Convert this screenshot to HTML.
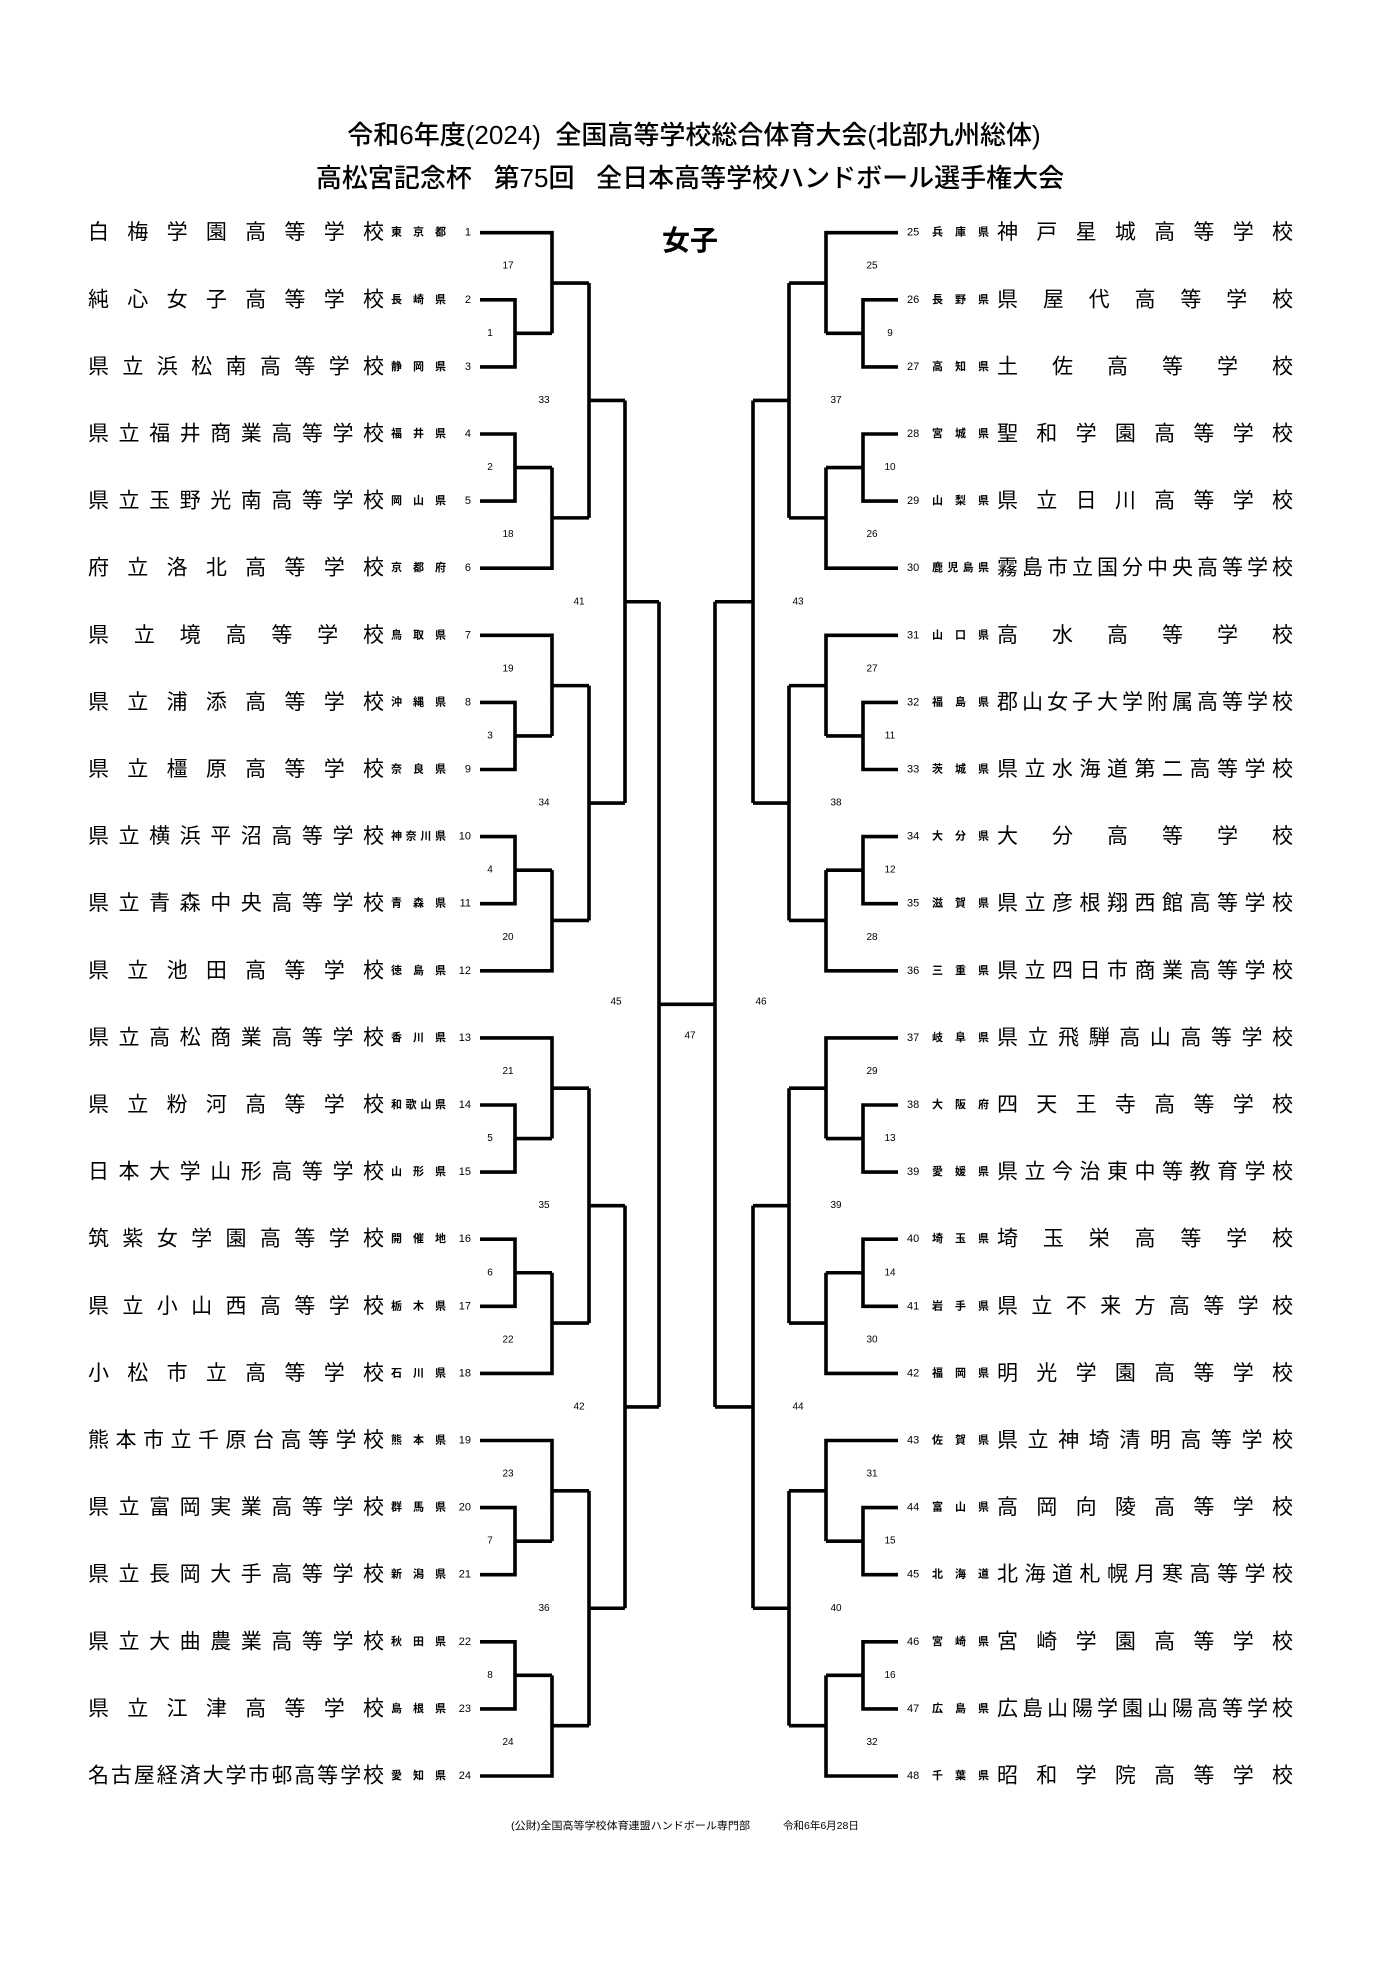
<!DOCTYPE html>
<html><head><meta charset="utf-8"><style>
html,body{margin:0;padding:0;background:#fff}
svg{display:block}
text{font-family:"Liberation Sans","Noto Sans CJK JP",sans-serif;fill:#000}
.t{font-size:26px;font-weight:500}
.n{font-size:21px}
.p{font-size:11px;font-weight:bold}
.num{font-size:11px}
.g{font-size:10px}
</style></head><body>
<svg width="1388" height="1962" viewBox="0 0 1388 1962" xmlns="http://www.w3.org/2000/svg">
<defs>
<path id="blk" d="M480 0H552V100.65 M480 67.1H515V134.2H480 M515 100.65H552 M552 50.33H589 M480 201.3H515V268.4H480 M515 234.85H552 M552 234.85V335.5H480 M552 285.18H589 M589 50.33V285.18 M589 167.75H625" fill="none" stroke="#000" stroke-width="3.6"/>
</defs>
<text class="t" x="694" y="144" text-anchor="middle">令和6年度(2024)&#160;&#160;全国高等学校総合体育大会(北部九州総体)</text>
<text class="t" x="690" y="187" text-anchor="middle">高松宮記念杯&#160;&#160;&#160;第75回&#160;&#160;&#160;全日本高等学校ハンドボール選手権大会</text>
<text x="690" y="250" text-anchor="middle" style="font-size:28px;font-weight:bold">女子</text>

<use href="#blk" transform="translate(0,232.7)"/>
<use href="#blk" transform="translate(0,635.3)"/>
<use href="#blk" transform="translate(0,1037.9)"/>
<use href="#blk" transform="translate(0,1440.5)"/>
<use href="#blk" transform="translate(1378,232.7) scale(-1,1)"/>
<use href="#blk" transform="translate(1378,635.3) scale(-1,1)"/>
<use href="#blk" transform="translate(1378,1037.9) scale(-1,1)"/>
<use href="#blk" transform="translate(1378,1440.5) scale(-1,1)"/>
<path d="M625 400.45V803.05 M625 601.75H659 M625 1205.65V1608.25 M625 1406.95H659 M659 601.75V1406.95 M659 1004.35H715 M753 400.45V803.05 M753 601.75H715 M753 1205.65V1608.25 M753 1406.95H715 M715 601.75V1406.95" fill="none" stroke="#000" stroke-width="3.6"/>

<g class="g" text-anchor="middle" dominant-baseline="central">
<text x="490" y="333.35">1</text><text x="490" y="467.55">2</text><text x="508" y="266.2">17</text><text x="508" y="534.7">18</text><text x="544" y="400.45">33</text>
<text x="490" y="735.95">3</text><text x="490" y="870.15">4</text><text x="508" y="668.8">19</text><text x="508" y="937.3">20</text><text x="544" y="803.05">34</text>
<text x="490" y="1138.55">5</text><text x="490" y="1272.75">6</text><text x="508" y="1071.4">21</text><text x="508" y="1339.9">22</text><text x="544" y="1205.65">35</text>
<text x="490" y="1541.15">7</text><text x="490" y="1675.35">8</text><text x="508" y="1474">23</text><text x="508" y="1742.5">24</text><text x="544" y="1608.25">36</text>
<text x="890" y="333.35">9</text><text x="890" y="467.55">10</text><text x="872" y="266.2">25</text><text x="872" y="534.7">26</text><text x="836" y="400.45">37</text>
<text x="890" y="735.95">11</text><text x="890" y="870.15">12</text><text x="872" y="668.8">27</text><text x="872" y="937.3">28</text><text x="836" y="803.05">38</text>
<text x="890" y="1138.55">13</text><text x="890" y="1272.75">14</text><text x="872" y="1071.4">29</text><text x="872" y="1339.9">30</text><text x="836" y="1205.65">39</text>
<text x="890" y="1541.15">15</text><text x="890" y="1675.35">16</text><text x="872" y="1474">31</text><text x="872" y="1742.5">32</text><text x="836" y="1608.25">40</text>
<text x="579" y="601.75">41</text><text x="579" y="1406.95">42</text><text x="798" y="601.75">43</text><text x="798" y="1406.95">44</text>
<text x="616" y="1002">45</text><text x="761" y="1002">46</text><text x="690" y="1036">47</text>
</g>

<g dominant-baseline="central">
<text class="n" x="88" y="232.7" textLength="296" lengthAdjust="spacing">白梅学園高等学校</text><text class="p" x="391" y="232.7" textLength="55" lengthAdjust="spacing">東京都</text><text class="num" x="471" y="232.7" text-anchor="end">1</text>
<text class="n" x="88" y="299.8" textLength="296" lengthAdjust="spacing">純心女子高等学校</text><text class="p" x="391" y="299.8" textLength="55" lengthAdjust="spacing">長崎県</text><text class="num" x="471" y="299.8" text-anchor="end">2</text>
<text class="n" x="88" y="366.9" textLength="296" lengthAdjust="spacing">県立浜松南高等学校</text><text class="p" x="391" y="366.9" textLength="55" lengthAdjust="spacing">静岡県</text><text class="num" x="471" y="366.9" text-anchor="end">3</text>
<text class="n" x="88" y="434.0" textLength="296" lengthAdjust="spacing">県立福井商業高等学校</text><text class="p" x="391" y="434.0" textLength="55" lengthAdjust="spacing">福井県</text><text class="num" x="471" y="434.0" text-anchor="end">4</text>
<text class="n" x="88" y="501.1" textLength="296" lengthAdjust="spacing">県立玉野光南高等学校</text><text class="p" x="391" y="501.1" textLength="55" lengthAdjust="spacing">岡山県</text><text class="num" x="471" y="501.1" text-anchor="end">5</text>
<text class="n" x="88" y="568.2" textLength="296" lengthAdjust="spacing">府立洛北高等学校</text><text class="p" x="391" y="568.2" textLength="55" lengthAdjust="spacing">京都府</text><text class="num" x="471" y="568.2" text-anchor="end">6</text>
<text class="n" x="88" y="635.3" textLength="296" lengthAdjust="spacing">県立境高等学校</text><text class="p" x="391" y="635.3" textLength="55" lengthAdjust="spacing">鳥取県</text><text class="num" x="471" y="635.3" text-anchor="end">7</text>
<text class="n" x="88" y="702.4" textLength="296" lengthAdjust="spacing">県立浦添高等学校</text><text class="p" x="391" y="702.4" textLength="55" lengthAdjust="spacing">沖縄県</text><text class="num" x="471" y="702.4" text-anchor="end">8</text>
<text class="n" x="88" y="769.5" textLength="296" lengthAdjust="spacing">県立橿原高等学校</text><text class="p" x="391" y="769.5" textLength="55" lengthAdjust="spacing">奈良県</text><text class="num" x="471" y="769.5" text-anchor="end">9</text>
<text class="n" x="88" y="836.6" textLength="296" lengthAdjust="spacing">県立横浜平沼高等学校</text><text class="p" x="391" y="836.6" textLength="55" lengthAdjust="spacing">神奈川県</text><text class="num" x="471" y="836.6" text-anchor="end">10</text>
<text class="n" x="88" y="903.7" textLength="296" lengthAdjust="spacing">県立青森中央高等学校</text><text class="p" x="391" y="903.7" textLength="55" lengthAdjust="spacing">青森県</text><text class="num" x="471" y="903.7" text-anchor="end">11</text>
<text class="n" x="88" y="970.8" textLength="296" lengthAdjust="spacing">県立池田高等学校</text><text class="p" x="391" y="970.8" textLength="55" lengthAdjust="spacing">徳島県</text><text class="num" x="471" y="970.8" text-anchor="end">12</text>
<text class="n" x="88" y="1037.9" textLength="296" lengthAdjust="spacing">県立高松商業高等学校</text><text class="p" x="391" y="1037.9" textLength="55" lengthAdjust="spacing">香川県</text><text class="num" x="471" y="1037.9" text-anchor="end">13</text>
<text class="n" x="88" y="1105.0" textLength="296" lengthAdjust="spacing">県立粉河高等学校</text><text class="p" x="391" y="1105.0" textLength="55" lengthAdjust="spacing">和歌山県</text><text class="num" x="471" y="1105.0" text-anchor="end">14</text>
<text class="n" x="88" y="1172.1" textLength="296" lengthAdjust="spacing">日本大学山形高等学校</text><text class="p" x="391" y="1172.1" textLength="55" lengthAdjust="spacing">山形県</text><text class="num" x="471" y="1172.1" text-anchor="end">15</text>
<text class="n" x="88" y="1239.2" textLength="296" lengthAdjust="spacing">筑紫女学園高等学校</text><text class="p" x="391" y="1239.2" textLength="55" lengthAdjust="spacing">開催地</text><text class="num" x="471" y="1239.2" text-anchor="end">16</text>
<text class="n" x="88" y="1306.3" textLength="296" lengthAdjust="spacing">県立小山西高等学校</text><text class="p" x="391" y="1306.3" textLength="55" lengthAdjust="spacing">栃木県</text><text class="num" x="471" y="1306.3" text-anchor="end">17</text>
<text class="n" x="88" y="1373.4" textLength="296" lengthAdjust="spacing">小松市立高等学校</text><text class="p" x="391" y="1373.4" textLength="55" lengthAdjust="spacing">石川県</text><text class="num" x="471" y="1373.4" text-anchor="end">18</text>
<text class="n" x="88" y="1440.5" textLength="296" lengthAdjust="spacing">熊本市立千原台高等学校</text><text class="p" x="391" y="1440.5" textLength="55" lengthAdjust="spacing">熊本県</text><text class="num" x="471" y="1440.5" text-anchor="end">19</text>
<text class="n" x="88" y="1507.6" textLength="296" lengthAdjust="spacing">県立富岡実業高等学校</text><text class="p" x="391" y="1507.6" textLength="55" lengthAdjust="spacing">群馬県</text><text class="num" x="471" y="1507.6" text-anchor="end">20</text>
<text class="n" x="88" y="1574.7" textLength="296" lengthAdjust="spacing">県立長岡大手高等学校</text><text class="p" x="391" y="1574.7" textLength="55" lengthAdjust="spacing">新潟県</text><text class="num" x="471" y="1574.7" text-anchor="end">21</text>
<text class="n" x="88" y="1641.8" textLength="296" lengthAdjust="spacing">県立大曲農業高等学校</text><text class="p" x="391" y="1641.8" textLength="55" lengthAdjust="spacing">秋田県</text><text class="num" x="471" y="1641.8" text-anchor="end">22</text>
<text class="n" x="88" y="1708.9" textLength="296" lengthAdjust="spacing">県立江津高等学校</text><text class="p" x="391" y="1708.9" textLength="55" lengthAdjust="spacing">島根県</text><text class="num" x="471" y="1708.9" text-anchor="end">23</text>
<text class="n" x="88" y="1776.0" textLength="296" lengthAdjust="spacing">名古屋経済大学市邨高等学校</text><text class="p" x="391" y="1776.0" textLength="55" lengthAdjust="spacing">愛知県</text><text class="num" x="471" y="1776.0" text-anchor="end">24</text>

<text class="num" x="907" y="232.7">25</text><text class="p" x="932" y="232.7" textLength="57" lengthAdjust="spacing">兵庫県</text><text class="n" x="997" y="232.7" textLength="296" lengthAdjust="spacing">神戸星城高等学校</text>
<text class="num" x="907" y="299.8">26</text><text class="p" x="932" y="299.8" textLength="57" lengthAdjust="spacing">長野県</text><text class="n" x="997" y="299.8" textLength="296" lengthAdjust="spacing">県屋代高等学校</text>
<text class="num" x="907" y="366.9">27</text><text class="p" x="932" y="366.9" textLength="57" lengthAdjust="spacing">高知県</text><text class="n" x="997" y="366.9" textLength="296" lengthAdjust="spacing">土佐高等学校</text>
<text class="num" x="907" y="434.0">28</text><text class="p" x="932" y="434.0" textLength="57" lengthAdjust="spacing">宮城県</text><text class="n" x="997" y="434.0" textLength="296" lengthAdjust="spacing">聖和学園高等学校</text>
<text class="num" x="907" y="501.1">29</text><text class="p" x="932" y="501.1" textLength="57" lengthAdjust="spacing">山梨県</text><text class="n" x="997" y="501.1" textLength="296" lengthAdjust="spacing">県立日川高等学校</text>
<text class="num" x="907" y="568.2">30</text><text class="p" x="932" y="568.2" textLength="57" lengthAdjust="spacing">鹿児島県</text><text class="n" x="997" y="568.2" textLength="296" lengthAdjust="spacing">霧島市立国分中央高等学校</text>
<text class="num" x="907" y="635.3">31</text><text class="p" x="932" y="635.3" textLength="57" lengthAdjust="spacing">山口県</text><text class="n" x="997" y="635.3" textLength="296" lengthAdjust="spacing">高水高等学校</text>
<text class="num" x="907" y="702.4">32</text><text class="p" x="932" y="702.4" textLength="57" lengthAdjust="spacing">福島県</text><text class="n" x="997" y="702.4" textLength="296" lengthAdjust="spacing">郡山女子大学附属高等学校</text>
<text class="num" x="907" y="769.5">33</text><text class="p" x="932" y="769.5" textLength="57" lengthAdjust="spacing">茨城県</text><text class="n" x="997" y="769.5" textLength="296" lengthAdjust="spacing">県立水海道第二高等学校</text>
<text class="num" x="907" y="836.6">34</text><text class="p" x="932" y="836.6" textLength="57" lengthAdjust="spacing">大分県</text><text class="n" x="997" y="836.6" textLength="296" lengthAdjust="spacing">大分高等学校</text>
<text class="num" x="907" y="903.7">35</text><text class="p" x="932" y="903.7" textLength="57" lengthAdjust="spacing">滋賀県</text><text class="n" x="997" y="903.7" textLength="296" lengthAdjust="spacing">県立彦根翔西館高等学校</text>
<text class="num" x="907" y="970.8">36</text><text class="p" x="932" y="970.8" textLength="57" lengthAdjust="spacing">三重県</text><text class="n" x="997" y="970.8" textLength="296" lengthAdjust="spacing">県立四日市商業高等学校</text>
<text class="num" x="907" y="1037.9">37</text><text class="p" x="932" y="1037.9" textLength="57" lengthAdjust="spacing">岐阜県</text><text class="n" x="997" y="1037.9" textLength="296" lengthAdjust="spacing">県立飛騨高山高等学校</text>
<text class="num" x="907" y="1105.0">38</text><text class="p" x="932" y="1105.0" textLength="57" lengthAdjust="spacing">大阪府</text><text class="n" x="997" y="1105.0" textLength="296" lengthAdjust="spacing">四天王寺高等学校</text>
<text class="num" x="907" y="1172.1">39</text><text class="p" x="932" y="1172.1" textLength="57" lengthAdjust="spacing">愛媛県</text><text class="n" x="997" y="1172.1" textLength="296" lengthAdjust="spacing">県立今治東中等教育学校</text>
<text class="num" x="907" y="1239.2">40</text><text class="p" x="932" y="1239.2" textLength="57" lengthAdjust="spacing">埼玉県</text><text class="n" x="997" y="1239.2" textLength="296" lengthAdjust="spacing">埼玉栄高等学校</text>
<text class="num" x="907" y="1306.3">41</text><text class="p" x="932" y="1306.3" textLength="57" lengthAdjust="spacing">岩手県</text><text class="n" x="997" y="1306.3" textLength="296" lengthAdjust="spacing">県立不来方高等学校</text>
<text class="num" x="907" y="1373.4">42</text><text class="p" x="932" y="1373.4" textLength="57" lengthAdjust="spacing">福岡県</text><text class="n" x="997" y="1373.4" textLength="296" lengthAdjust="spacing">明光学園高等学校</text>
<text class="num" x="907" y="1440.5">43</text><text class="p" x="932" y="1440.5" textLength="57" lengthAdjust="spacing">佐賀県</text><text class="n" x="997" y="1440.5" textLength="296" lengthAdjust="spacing">県立神埼清明高等学校</text>
<text class="num" x="907" y="1507.6">44</text><text class="p" x="932" y="1507.6" textLength="57" lengthAdjust="spacing">富山県</text><text class="n" x="997" y="1507.6" textLength="296" lengthAdjust="spacing">高岡向陵高等学校</text>
<text class="num" x="907" y="1574.7">45</text><text class="p" x="932" y="1574.7" textLength="57" lengthAdjust="spacing">北海道</text><text class="n" x="997" y="1574.7" textLength="296" lengthAdjust="spacing">北海道札幌月寒高等学校</text>
<text class="num" x="907" y="1641.8">46</text><text class="p" x="932" y="1641.8" textLength="57" lengthAdjust="spacing">宮崎県</text><text class="n" x="997" y="1641.8" textLength="296" lengthAdjust="spacing">宮崎学園高等学校</text>
<text class="num" x="907" y="1708.9">47</text><text class="p" x="932" y="1708.9" textLength="57" lengthAdjust="spacing">広島県</text><text class="n" x="997" y="1708.9" textLength="296" lengthAdjust="spacing">広島山陽学園山陽高等学校</text>
<text class="num" x="907" y="1776.0">48</text><text class="p" x="932" y="1776.0" textLength="57" lengthAdjust="spacing">千葉県</text><text class="n" x="997" y="1776.0" textLength="296" lengthAdjust="spacing">昭和学院高等学校</text>
</g>

<text x="511" y="1829" style="font-size:10.5px" textLength="239" lengthAdjust="spacingAndGlyphs">(公財)全国高等学校体育連盟ハンドボール専門部</text>
<text x="783" y="1829" style="font-size:10.5px">令和6年6月28日</text>
</svg>
</body></html>
